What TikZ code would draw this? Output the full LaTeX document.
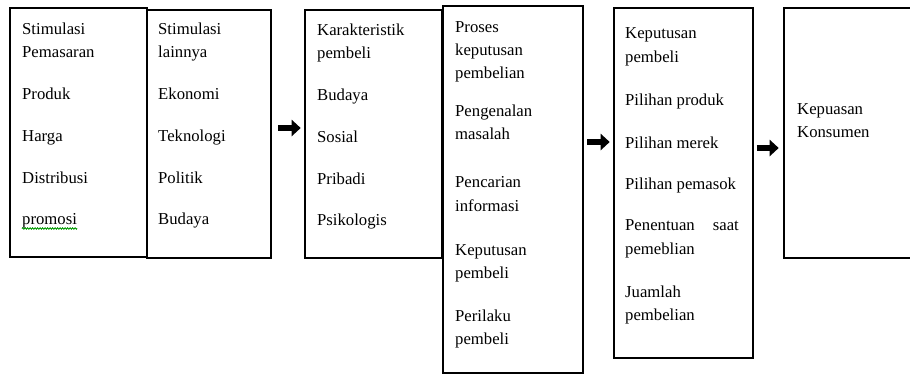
\documentclass[tikz,border=0pt]{standalone}
\usepackage{fontspec}
\setmainfont{Liberation Serif}
\usetikzlibrary{arrows.meta,decorations.pathmorphing}
\begin{document}
\begin{tikzpicture}[x=1pt,y=-1pt,
  box/.style={draw=black,line width=2.6pt,inner sep=0pt,fill=white},
  txt/.style={anchor=base west,inner sep=0pt,font=\fontsize{16.7}{23}\selectfont},
  flow/.style={line width=6pt,-{Triangle[length=9pt,width=16pt]}},
  squiggle/.style={draw=green!60!black,line width=0.8pt,decorate,
    decoration={zigzag,amplitude=0.8pt,segment length=2.5pt}}]
\clip (0,0) rectangle (910,376);
\fill[white] (0,0) rectangle (910,376);
% boxes
\node[box,minimum width=137pt,minimum height=249pt] (b1) at (78.5,132.5) {};
\node[box,minimum width=124pt,minimum height=248pt] (b2) at (209,134) {};
\node[box,minimum width=137pt,minimum height=248pt] (b3) at (373.5,134) {};
\node[box,minimum width=140pt,minimum height=367pt] (b4) at (513,189.5) {};
\node[box,minimum width=139pt,minimum height=350pt] (b5) at (683.5,183) {};
\node[box,minimum width=140pt,minimum height=250pt] (b6) at (854,133) {};
% texts box 1
\foreach \yy/\tt [count=\i] in {34/Stimulasi,57/Pemasaran,99/Produk,141/Harga,183/Distribusi,224/promosi}
  \node[txt] (ta\i) at (22,\yy) {\tt};
\draw[squiggle] ([yshift=-4.5pt]ta6.base west) -- ([yshift=-4.5pt]ta6.base east);
% texts box 2
\foreach \yy/\tt [count=\i] in {34/Stimulasi,57/lainnya,99/Ekonomi,141/Teknologi,183/Politik,224/Budaya}
  \node[txt] (tb\i) at (158,\yy) {\tt};
% texts box 3
\foreach \yy/\tt [count=\i] in {35/Karakteristik,58/pembeli,100/Budaya,142/Sosial,184/Pribadi,225/Psikologis}
  \node[txt] (tc\i) at (317,\yy) {\tt};
% texts box 4
\foreach \yy/\tt [count=\i] in {32/Proses,55/keputusan,78/pembelian,116/Pengenalan,139/masalah,187/Pencarian,211/informasi,255/Keputusan,278/pembeli,321/Perilaku,344/pembeli}
  \node[txt] (td\i) at (455,\yy) {\tt};
% texts box 5
\foreach \yy/\tt [count=\i] in {38/Keputusan,62/pembeli,105/Pilihan produk,148/Pilihan merek,189/Pilihan pemasok,230/Penentuan,254/pemeblian,297/Juamlah,320/pembelian}
  \node[txt] (te\i) at (625,\yy) {\tt};
\node[txt,anchor=base east] (tesaat) at (739,230) {saat};
% texts box 6
\node[txt] (tf1) at (797,114) {Kepuasan};
\node[txt] (tf2) at (797,137) {Konsumen};
% arrows
\coordinate (r1) at (0,128);
\coordinate (r2) at (0,142);
\coordinate (r3) at (0,148);
\draw[flow,shorten <=6pt,shorten >=3pt] (b2.east |- r1) -- (b3.west |- r1);
\draw[flow,shorten <=3pt,shorten >=3pt] (b4.east |- r2) -- (b5.west |- r2);
\draw[flow,shorten <=2.5pt,shorten >=4pt] (b5.east |- r3) -- (b6.west |- r3);
\end{tikzpicture}
\end{document}
